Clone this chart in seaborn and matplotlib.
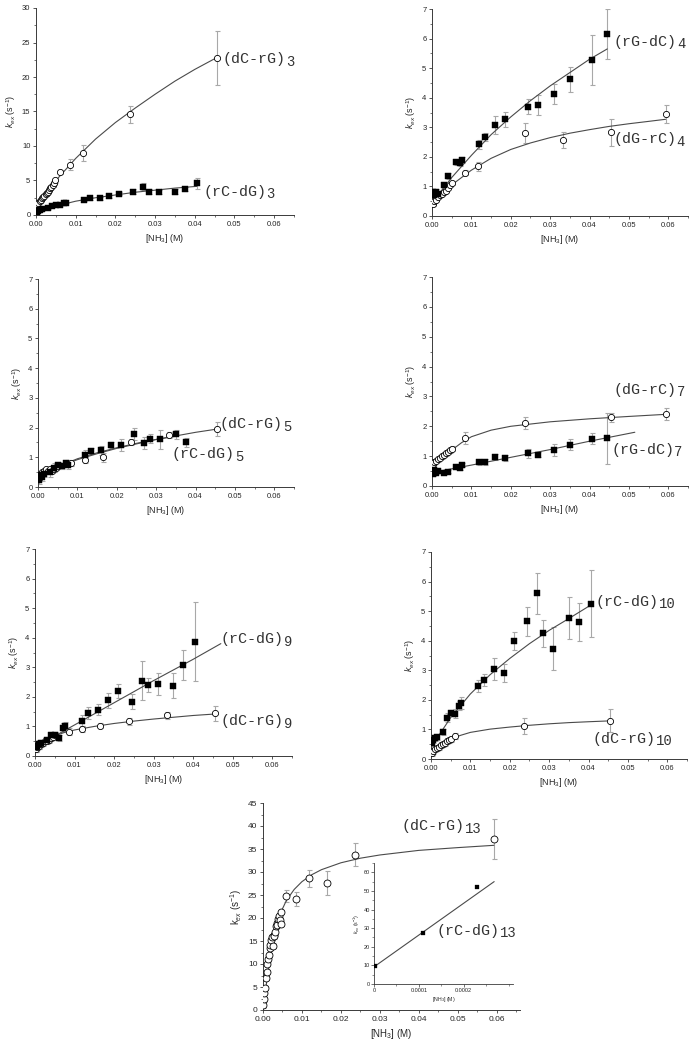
import matplotlib
matplotlib.use("Agg")
import matplotlib.pyplot as plt
from matplotlib.ticker import MultipleLocator, FormatStrFormatter, FixedLocator, FixedFormatter
import seaborn as sns
import pandas as pd

# ---------------- data ----------------
# Panel 1: (dC-rG)3 open circles, (rC-dG)3 filled squares
p1_circ_x = [0.0003, 0.0006, 0.0009, 0.0012, 0.0015, 0.0018, 0.0021, 0.0024, 0.0027, 0.003, 0.0033, 0.0036, 0.0039, 0.0042, 0.0045, 0.0048, 0.006, 0.0085, 0.0118, 0.0237, 0.0455]
p1_circ_y = [1.6, 1.8, 2.0, 2.2, 2.4, 2.6, 2.8, 3.0, 3.2, 3.4, 3.6, 3.9, 4.1, 4.4, 4.7, 5.0, 6.2, 7.3, 9.0, 14.6, 22.8]
p1_circ_e = [0.2, 0.2, 0.2, 0.2, 0.2, 0.2, 0.2, 0.2, 0.2, 0.2, 0.3, 0.3, 0.3, 0.3, 0.4, 0.4, 0.3, 0.8, 1.2, 1.2, 3.9]
p1_sq_x = [0.0003, 0.0006, 0.001, 0.0015, 0.003, 0.004, 0.005, 0.006, 0.007, 0.0075, 0.012, 0.0135, 0.016, 0.0185, 0.021, 0.0245, 0.027, 0.0285, 0.031, 0.035, 0.0375, 0.0405]
p1_sq_y = [0.5, 0.6, 0.7, 0.8, 1.0, 1.3, 1.4, 1.5, 1.7, 1.8, 2.2, 2.4, 2.4, 2.7, 3.1, 3.4, 4.1, 3.4, 3.3, 3.4, 3.8, 4.6]
p1_sq_e = [0.1, 0.1, 0.1, 0.1, 0.1, 0.1, 0.1, 0.1, 0.1, 0.1, 0.2, 0.2, 0.2, 0.2, 0.2, 0.3, 0.5, 0.3, 0.3, 0.4, 0.3, 0.8]
p1_circ_fit_x = [0, 0.005, 0.01, 0.015, 0.02, 0.025, 0.03, 0.035, 0.04, 0.0455]
p1_circ_fit_y = [1.3, 5.0, 8.2, 11.0, 13.4, 15.5, 17.5, 19.4, 21.1, 22.8]
p1_sq_fit_x = [0, 0.005, 0.01, 0.015, 0.02, 0.025, 0.03, 0.035, 0.0405]
p1_sq_fit_y = [0.5, 1.3, 2.0, 2.5, 2.9, 3.3, 3.6, 3.9, 4.15]

# Panel 2: (rG-dC)4 squares, (dG-rC)4 circles
p2_sq_x = [0.0003, 0.0006, 0.001, 0.0015, 0.003, 0.004, 0.006, 0.007, 0.0075, 0.012, 0.0135, 0.016, 0.0185, 0.0245, 0.027, 0.031, 0.035, 0.0405, 0.0445]
p2_sq_y = [0.8, 0.7, 0.8, 0.75, 1.05, 1.35, 1.82, 1.78, 1.9, 2.42, 2.67, 3.08, 3.27, 3.7, 3.75, 4.12, 4.62, 5.27, 6.15]
p2_sq_e = [0.1, 0.1, 0.1, 0.1, 0.1, 0.1, 0.1, 0.1, 0.1, 0.15, 0.15, 0.3, 0.25, 0.25, 0.35, 0.33, 0.43, 0.85, 0.85]
p2_circ_x = [0.0003, 0.0006, 0.001, 0.0015, 0.002, 0.0025, 0.003, 0.0035, 0.004, 0.0045, 0.005, 0.0085, 0.0118, 0.0237, 0.0333, 0.0455, 0.0593]
p2_circ_y = [0.4, 0.5, 0.55, 0.65, 0.7, 0.75, 0.8, 0.85, 0.95, 1.05, 1.1, 1.47, 1.68, 2.8, 2.58, 2.83, 3.45]
p2_circ_e = [0.05, 0.05, 0.05, 0.05, 0.05, 0.05, 0.05, 0.05, 0.05, 0.05, 0.05, 0.08, 0.15, 0.33, 0.27, 0.45, 0.3]
p2_sq_fit_x = [0, 0.005, 0.01, 0.015, 0.02, 0.025, 0.03, 0.035, 0.04, 0.0445]
p2_sq_fit_y = [0.45, 1.3, 2.05, 2.75, 3.35, 3.9, 4.4, 4.85, 5.3, 5.65]
p2_circ_fit_x = [0, 0.005, 0.01, 0.015, 0.02, 0.025, 0.03, 0.035, 0.04, 0.045, 0.05, 0.055, 0.0593]
p2_circ_fit_y = [0.3, 1.05, 1.55, 1.95, 2.25, 2.47, 2.65, 2.8, 2.92, 3.03, 3.12, 3.2, 3.27]

# Panel 3: (dC-rG)5 circles, (rC-dG)5 squares
p3_circ_x = [0.0003, 0.0006, 0.001, 0.0015, 0.002, 0.0025, 0.003, 0.0035, 0.004, 0.0045, 0.005, 0.0085, 0.012, 0.0165, 0.0237, 0.0333, 0.0455]
p3_circ_y = [0.3, 0.4, 0.5, 0.55, 0.6, 0.55, 0.6, 0.55, 0.6, 0.65, 0.7, 0.82, 0.9, 1.0, 1.5, 1.75, 1.95]
p3_circ_e = [0.08, 0.08, 0.08, 0.08, 0.08, 0.08, 0.08, 0.08, 0.08, 0.08, 0.08, 0.1, 0.1, 0.15, 0.1, 0.1, 0.25]
p3_sq_x = [0.0003, 0.0006, 0.001, 0.0015, 0.003, 0.004, 0.005, 0.006, 0.007, 0.0075, 0.012, 0.0135, 0.016, 0.0185, 0.021, 0.0245, 0.027, 0.0285, 0.031, 0.035, 0.0375]
p3_sq_y = [0.25, 0.4, 0.35, 0.45, 0.5, 0.65, 0.75, 0.72, 0.8, 0.75, 1.08, 1.2, 1.23, 1.42, 1.4, 1.77, 1.47, 1.62, 1.6, 1.78, 1.5]
p3_sq_e = [0.15, 0.1, 0.15, 0.1, 0.15, 0.15, 0.1, 0.1, 0.1, 0.15, 0.15, 0.1, 0.15, 0.1, 0.2, 0.2, 0.2, 0.15, 0.33, 0.15, 0.15]
p3_circ_fit_x = [0, 0.005, 0.01, 0.015, 0.02, 0.025, 0.03, 0.035, 0.04, 0.0455]
p3_circ_fit_y = [0.4, 0.68, 0.92, 1.12, 1.3, 1.45, 1.6, 1.72, 1.84, 1.95]
p3_sq_fit_x = [0, 0.005, 0.01, 0.015, 0.02, 0.025, 0.03, 0.0355]
p3_sq_fit_y = [0.35, 0.68, 0.95, 1.15, 1.32, 1.47, 1.6, 1.72]

# Panel 4: (dG-rC)7 circles, (rG-dC)7 squares
p4_circ_x = [0.0003, 0.0006, 0.001, 0.0015, 0.002, 0.0025, 0.003, 0.0035, 0.004, 0.0045, 0.005, 0.0085, 0.0237, 0.0455, 0.0593]
p4_circ_y = [0.75, 0.8, 0.85, 0.9, 0.95, 1.0, 1.05, 1.1, 1.15, 1.2, 1.25, 1.62, 2.1, 2.3, 2.42]
p4_circ_e = [0.08, 0.08, 0.08, 0.08, 0.08, 0.08, 0.08, 0.08, 0.08, 0.08, 0.08, 0.2, 0.2, 0.15, 0.2]
p4_sq_x = [0.0003, 0.0006, 0.001, 0.0015, 0.003, 0.004, 0.006, 0.007, 0.0075, 0.012, 0.0135, 0.016, 0.0185, 0.0245, 0.027, 0.031, 0.035, 0.0405, 0.0445]
p4_sq_y = [0.4, 0.55, 0.45, 0.5, 0.45, 0.47, 0.65, 0.6, 0.7, 0.82, 0.82, 0.97, 0.95, 1.1, 1.05, 1.22, 1.38, 1.58, 1.6]
p4_sq_e = [0.05, 0.05, 0.05, 0.05, 0.05, 0.05, 0.08, 0.08, 0.08, 0.1, 0.1, 0.1, 0.1, 0.15, 0.08, 0.2, 0.18, 0.18, 0.85]
p4_circ_fit_x = [0, 0.0025, 0.005, 0.0075, 0.01, 0.015, 0.02, 0.03, 0.04, 0.05, 0.0593]
p4_circ_fit_y = [0.75, 0.97, 1.2, 1.45, 1.65, 1.87, 2.0, 2.15, 2.25, 2.33, 2.4]
p4_sq_fit_x = [0, 0.01, 0.02, 0.03, 0.04, 0.0515]
p4_sq_fit_y = [0.45, 0.7, 0.96, 1.22, 1.5, 1.8]

# Panel 5: (rC-dG)9 squares, (dC-rG)9 circles
p5_sq_x = [0.0003, 0.0006, 0.001, 0.0015, 0.003, 0.004, 0.005, 0.006, 0.007, 0.0075, 0.012, 0.0135, 0.016, 0.0185, 0.021, 0.0245, 0.027, 0.0285, 0.031, 0.035, 0.0375, 0.0405]
p5_sq_y = [0.3, 0.35, 0.4, 0.45, 0.55, 0.7, 0.7, 0.6, 0.95, 1.0, 1.2, 1.45, 1.57, 1.88, 2.2, 1.83, 2.55, 2.4, 2.42, 2.37, 3.07, 3.87]
p5_sq_e = [0.15, 0.15, 0.15, 0.1, 0.1, 0.1, 0.1, 0.1, 0.15, 0.15, 0.2, 0.2, 0.2, 0.25, 0.25, 0.25, 0.65, 0.25, 0.37, 0.42, 0.5, 1.33]
p5_circ_x = [0.0003, 0.0006, 0.001, 0.0015, 0.002, 0.0025, 0.003, 0.0035, 0.004, 0.0045, 0.005, 0.0085, 0.012, 0.0165, 0.0237, 0.0333, 0.0455]
p5_circ_y = [0.25, 0.3, 0.35, 0.4, 0.45, 0.5, 0.5, 0.55, 0.6, 0.65, 0.7, 0.82, 0.92, 1.03, 1.18, 1.37, 1.45]
p5_circ_e = [0.1, 0.1, 0.1, 0.1, 0.1, 0.1, 0.1, 0.1, 0.1, 0.1, 0.1, 0.12, 0.1, 0.1, 0.12, 0.12, 0.25]
p5_sq_fit_x = [0, 0.01, 0.02, 0.03, 0.04, 0.047]
p5_sq_fit_y = [0.3, 1.05, 1.8, 2.55, 3.27, 3.8]
p5_circ_fit_x = [0, 0.0025, 0.005, 0.0075, 0.01, 0.015, 0.02, 0.025, 0.03, 0.035, 0.04, 0.0455]
p5_circ_fit_y = [0.3, 0.52, 0.68, 0.8, 0.88, 1.0, 1.1, 1.18, 1.25, 1.31, 1.37, 1.42]

# Panel 6: (rC-dG)10 squares, (dC-rG)10 circles
p6_sq_x = [0.0003, 0.0006, 0.001, 0.0015, 0.003, 0.004, 0.005, 0.006, 0.007, 0.0075, 0.012, 0.0135, 0.016, 0.0185, 0.021, 0.0245, 0.027, 0.0285, 0.031, 0.035, 0.0375, 0.0405]
p6_sq_y = [0.55, 0.65, 0.7, 0.75, 0.9, 1.4, 1.57, 1.53, 1.8, 1.9, 2.48, 2.67, 3.05, 2.9, 4.0, 4.65, 5.6, 4.25, 3.73, 4.77, 4.63, 5.25]
p6_sq_e = [0.1, 0.1, 0.1, 0.1, 0.1, 0.15, 0.1, 0.15, 0.15, 0.2, 0.2, 0.2, 0.37, 0.3, 0.3, 0.5, 0.7, 0.45, 0.72, 0.7, 0.63, 1.13]
p6_circ_x = [0.0003, 0.0006, 0.001, 0.0015, 0.002, 0.0025, 0.003, 0.0035, 0.004, 0.0045, 0.005, 0.006, 0.0237, 0.0455]
p6_circ_y = [0.2, 0.28, 0.33, 0.38, 0.42, 0.46, 0.5, 0.55, 0.6, 0.64, 0.68, 0.77, 1.13, 1.3]
p6_circ_e = [0.1, 0.1, 0.1, 0.1, 0.1, 0.1, 0.1, 0.1, 0.1, 0.1, 0.1, 0.1, 0.27, 0.38]
p6_sq_fit_x = [0, 0.005, 0.01, 0.015, 0.02, 0.025, 0.03, 0.035, 0.0405]
p6_sq_fit_y = [0.4, 1.4, 2.2, 2.85, 3.4, 3.9, 4.35, 4.75, 5.2]
p6_circ_fit_x = [0, 0.0025, 0.005, 0.0075, 0.01, 0.015, 0.02, 0.025, 0.03, 0.035, 0.04, 0.0455]
p6_circ_fit_y = [0.1, 0.45, 0.67, 0.8, 0.9, 1.01, 1.08, 1.14, 1.19, 1.23, 1.26, 1.29]

# Panel 7: (dC-rG)13 circles, inset (rC-dG)13 squares
p7_circ_x = [0.0001, 0.0002, 0.0003, 0.0005, 0.0007, 0.0009, 0.0011, 0.0013, 0.0015, 0.0017, 0.0019, 0.0021, 0.0023, 0.0025, 0.0027, 0.0029, 0.0031, 0.0033, 0.0035, 0.0037, 0.0039, 0.0041, 0.0043, 0.0045, 0.0047, 0.006, 0.0085, 0.0117, 0.0165, 0.0237, 0.0593]
p7_circ_y = [1.0, 2.3, 3.8, 4.8, 7.0, 8.3, 10.0, 11.0, 12.0, 13.5, 14.2, 15.2, 15.8, 14.0, 16.3, 16.0, 17.0, 18.2, 19.0, 18.5, 19.8, 20.5, 19.5, 21.3, 18.8, 24.8, 24.2, 28.6, 27.6, 33.8, 37.2]
p7_circ_e = [0.5, 0.5, 0.5, 0.5, 0.5, 0.5, 0.5, 0.5, 0.5, 0.5, 0.5, 0.5, 0.5, 0.5, 0.5, 0.5, 0.5, 0.5, 0.5, 0.5, 0.5, 0.5, 0.5, 0.5, 0.5, 1.3, 1.5, 1.8, 2.6, 2.4, 4.3]
p7_circ_fit_x = [0, 0.001, 0.002, 0.003, 0.004, 0.005, 0.006, 0.008, 0.01, 0.0125, 0.015, 0.02, 0.025, 0.03, 0.04, 0.05, 0.0593]
p7_circ_fit_y = [0, 6.5, 12.0, 16.3, 19.6, 22.0, 23.8, 26.2, 27.9, 29.4, 30.5, 32.0, 33.0, 33.7, 34.7, 35.3, 35.8]
inset_sq_x = [0.000003, 0.00011, 0.00023]
inset_sq_y = [9.5, 27.3, 52.0]
inset_fit_x = [0, 0.000268]
inset_fit_y = [9.2, 55.0]

# ---------------- style ----------------
sns.set_style("ticks")
plt.rcParams['font.family'] = ['Liberation Sans', 'DejaVu Sans']
plt.rcParams['mathtext.fontset'] = 'custom'
plt.rcParams['mathtext.rm'] = 'Liberation Sans'
plt.rcParams['mathtext.it'] = 'Liberation Sans:italic'

AXC = '#3a3a3a'
FITC = '#4a4a4a'
ERRC = '#a8a8a8'
MONO = ['Liberation Mono', 'DejaVu Sans Mono']

fig = plt.figure(figsize=(6.93, 10.5), dpi=100)


def px_axes(x0, y0, x1, y1):
    return fig.add_axes([x0 / 693, 1 - y1 / 1050, (x1 - x0) / 693, (y1 - y0) / 1050])


def style_axes(ax, xlim, ylim, ymaj, ymin, tsize=5.5, lsize=6.5, italic=True):
    ax.set_xlim(*xlim)
    ax.set_ylim(*ylim)
    for s in ['top', 'right']:
        ax.spines[s].set_visible(False)
    for s in ['left', 'bottom']:
        ax.spines[s].set_color(AXC)
        ax.spines[s].set_linewidth(0.7)
    ax.xaxis.set_major_locator(MultipleLocator(0.01))
    ax.xaxis.set_minor_locator(MultipleLocator(0.005))
    ax.xaxis.set_major_formatter(FormatStrFormatter('%.2f'))
    ax.yaxis.set_major_locator(MultipleLocator(ymaj))
    ax.yaxis.set_minor_locator(MultipleLocator(ymin))
    ax.tick_params(which='major', length=2.5, width=0.6, color=AXC, labelsize=tsize, pad=1.5, direction='out')
    ax.tick_params(which='minor', length=1.5, width=0.5, color=AXC, direction='out')
    ax.set_xlabel(r'[NH$_3$] (M)', fontsize=lsize, labelpad=3)
    if italic:
        ax.set_ylabel(r'$k_{ex}$ (s$^{-1}$)', fontsize=lsize, labelpad=3)
    else:
        ax.set_ylabel(r'k$_{ex}$ (s$^{-1}$)', fontsize=lsize, labelpad=3)


def draw_series(ax, x, y, e, kind, ms_scale=1.0):
    df = pd.DataFrame({'x': x, 'y': y, 'e': e})
    ax.errorbar(df['x'], df['y'], yerr=df['e'], fmt='none', ecolor=ERRC, elinewidth=0.8,
                capsize=1.8, capthick=0.8, zorder=2)
    if kind == 'circ':
        sns.scatterplot(data=df, x='x', y='y', ax=ax, marker='o', s=20 * ms_scale, facecolor='white',
                        edgecolor='black', linewidth=0.6, zorder=4, legend=False)
    else:
        sns.scatterplot(data=df, x='x', y='y', ax=ax, marker='s', s=14 * ms_scale, color='black',
                        edgecolor='black', linewidth=0.3, zorder=4, legend=False)


def draw_fit(ax, x, y):
    df = pd.DataFrame({'x': x, 'y': y})
    sns.lineplot(data=df, x='x', y='y', ax=ax, color=FITC, linewidth=0.8, sort=False,
                 estimator=None, zorder=3, legend=False)


def label(ax, x, y, main, sub, size=10.8, subsize=10):
    t = ax.text(x, y, main, fontsize=size, family=MONO, va='center', ha='left', color='#333333')
    ax.annotate(sub, xy=(1.0, -0.18), xycoords=t, fontsize=subsize, family=MONO,
                va='bottom', ha='left', color='#333333')


# Panel 1
ax1 = px_axes(36, 8, 294, 215)
draw_fit(ax1, p1_circ_fit_x, p1_circ_fit_y)
draw_fit(ax1, p1_sq_fit_x, p1_sq_fit_y)
draw_series(ax1, p1_circ_x, p1_circ_y, p1_circ_e, 'circ')
draw_series(ax1, p1_sq_x, p1_sq_y, p1_sq_e, 'sq')
style_axes(ax1, (0, 0.065), (0, 30), 5, 2.5)
label(ax1, 0.0471, 22.6, '(dC-rG)', '3')
label(ax1, 0.0421, 3.4, '(rC-dG)', '3')

# Panel 2
ax2 = px_axes(432, 9, 688, 216)
draw_fit(ax2, p2_sq_fit_x, p2_sq_fit_y)
draw_fit(ax2, p2_circ_fit_x, p2_circ_fit_y)
draw_series(ax2, p2_circ_x, p2_circ_y, p2_circ_e, 'circ')
draw_series(ax2, p2_sq_x, p2_sq_y, p2_sq_e, 'sq')
style_axes(ax2, (0, 0.065), (0, 7), 1, 0.5)
label(ax2, 0.0462, 5.9, '(rG-dC)', '4')
label(ax2, 0.046, 2.6, '(dG-rC)', '4')

# Panel 3
ax3 = px_axes(38, 279, 294, 487)
draw_fit(ax3, p3_circ_fit_x, p3_circ_fit_y)
draw_fit(ax3, p3_sq_fit_x, p3_sq_fit_y)
draw_series(ax3, p3_circ_x, p3_circ_y, p3_circ_e, 'circ')
draw_series(ax3, p3_sq_x, p3_sq_y, p3_sq_e, 'sq')
style_axes(ax3, (0, 0.065), (0, 7), 1, 0.5)
label(ax3, 0.0462, 2.12, '(dC-rG)', '5')
label(ax3, 0.034, 1.1, '(rC-dG)', '5')

# Panel 4
ax4 = px_axes(432, 277, 688, 486)
draw_fit(ax4, p4_circ_fit_x, p4_circ_fit_y)
draw_fit(ax4, p4_sq_fit_x, p4_sq_fit_y)
draw_series(ax4, p4_circ_x, p4_circ_y, p4_circ_e, 'circ')
draw_series(ax4, p4_sq_x, p4_sq_y, p4_sq_e, 'sq')
style_axes(ax4, (0, 0.065), (0, 7), 1, 0.5)
label(ax4, 0.0462, 3.22, '(dG-rC)', '7')
label(ax4, 0.0455, 1.22, '(rG-dC)', '7')

# Panel 5
ax5 = px_axes(35, 549, 292, 756)
draw_fit(ax5, p5_sq_fit_x, p5_sq_fit_y)
draw_fit(ax5, p5_circ_fit_x, p5_circ_fit_y)
draw_series(ax5, p5_circ_x, p5_circ_y, p5_circ_e, 'circ')
draw_series(ax5, p5_sq_x, p5_sq_y, p5_sq_e, 'sq')
style_axes(ax5, (0, 0.065), (0, 7), 1, 0.5)
label(ax5, 0.047, 3.95, '(rC-dG)', '9')
label(ax5, 0.047, 1.17, '(dC-rG)', '9')

# Panel 6
ax6 = px_axes(431, 552, 687, 759)
draw_fit(ax6, p6_sq_fit_x, p6_sq_fit_y)
draw_fit(ax6, p6_circ_fit_x, p6_circ_fit_y)
draw_series(ax6, p6_circ_x, p6_circ_y, p6_circ_e, 'circ')
draw_series(ax6, p6_sq_x, p6_sq_y, p6_sq_e, 'sq')
style_axes(ax6, (0, 0.065), (0, 7), 1, 0.5)
label(ax6, 0.0418, 5.32, '(rC-dG)', '10')
label(ax6, 0.041, 0.68, '(dC-rG)', '10')

# Panel 7
ax7 = px_axes(263, 803, 520, 1010)
draw_fit(ax7, p7_circ_fit_x, p7_circ_fit_y)
draw_series(ax7, p7_circ_x, p7_circ_y, p7_circ_e, 'circ', ms_scale=1.25)
style_axes(ax7, (0, 0.066), (0, 45), 5, 2.5, tsize=6, lsize=7, italic=False)
label(ax7, 0.0356, 40.0, '(dC-rG)', '13')

# Inset
axi = px_axes(374, 863, 513, 984)
draw_fit(axi, inset_fit_x, inset_fit_y)
dfi = pd.DataFrame({'x': inset_sq_x, 'y': inset_sq_y})
sns.scatterplot(data=dfi, x='x', y='y', ax=axi, marker='s', s=5, color='black', edgecolor='black',
                linewidth=0.2, zorder=4, legend=False)
axi.set_xlim(0, 0.00031)
axi.set_ylim(0, 65)
for s in ['top', 'right']:
    axi.spines[s].set_visible(False)
for s in ['left', 'bottom']:
    axi.spines[s].set_color(AXC)
    axi.spines[s].set_linewidth(0.6)
axi.xaxis.set_major_locator(FixedLocator([0, 0.0001, 0.0002]))
axi.xaxis.set_major_formatter(FixedFormatter(['0', '0.0001', '0.0002']))
axi.xaxis.set_minor_locator(MultipleLocator(0.00005))
axi.yaxis.set_major_locator(MultipleLocator(10))
axi.yaxis.set_minor_locator(MultipleLocator(5))
axi.tick_params(which='major', length=2, width=0.5, color=AXC, labelsize=4, pad=1)
axi.tick_params(which='minor', length=1.2, width=0.4, color=AXC)
axi.set_xlabel(r'[NH$_3$] (M)', fontsize=3.8, labelpad=1)
axi.set_ylabel(r'$k_{ex}$ (s$^{-1}$)', fontsize=3.8, labelpad=1)
label(axi, 0.000140, 28.5, '(rC-dG)', '13')

fig.savefig('out.png', dpi=100)
